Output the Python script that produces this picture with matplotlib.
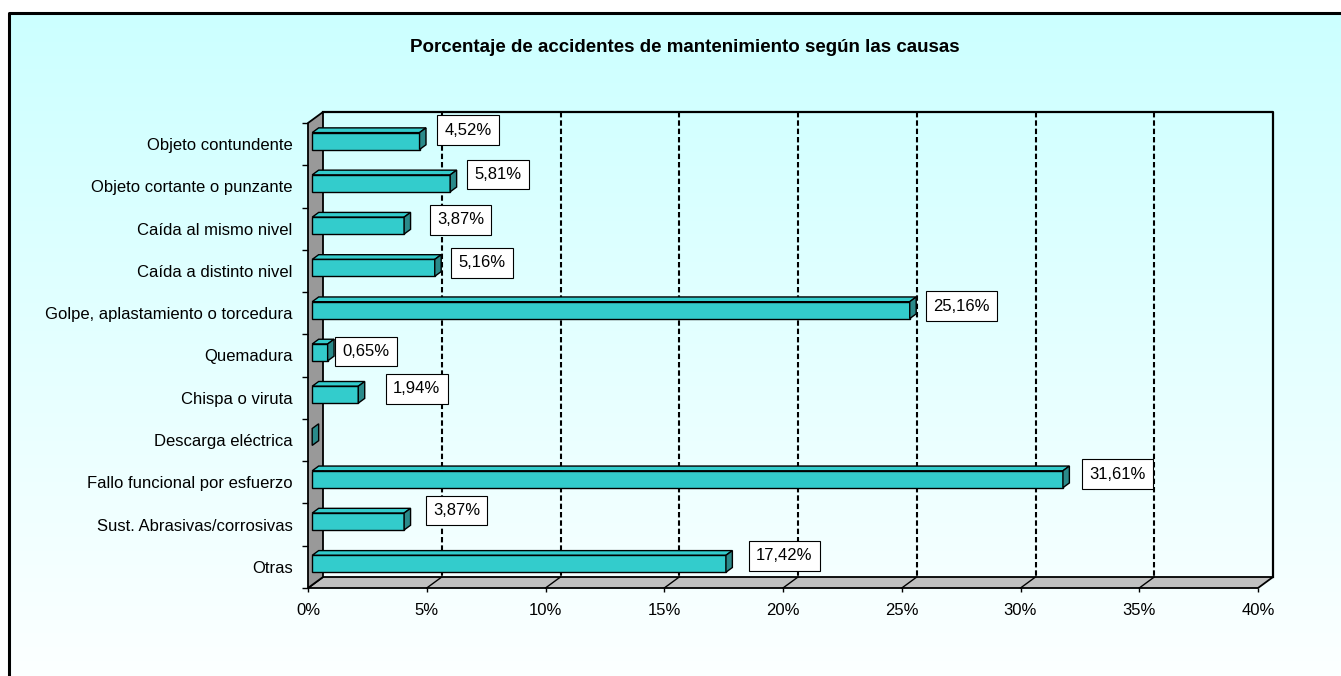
import numpy as np
import matplotlib.pyplot as plt
from matplotlib.patches import Polygon, Rectangle

plt.rcParams['font.family'] = ['Liberation Sans', 'DejaVu Sans']

# data
causas = ['Objeto contundente', 'Objeto cortante o punzante', 'Caída al mismo nivel',
          'Caída a distinto nivel', 'Golpe, aplastamiento o torcedura', 'Quemadura',
          'Chispa o viruta', 'Descarga eléctrica', 'Fallo funcional por esfuerzo',
          'Sust. Abrasivas/corrosivas', 'Otras']
porcentajes = [4.52, 5.81, 3.87, 5.16, 25.16, 0.65, 1.94, 0.0, 31.61, 3.87, 17.42]
ticks_x = [0, 5, 10, 15, 20, 25, 30, 35, 40]
titulo = 'Porcentaje de accidentes de mantenimiento según las causas'

# nudges of the value labels (pixels from the bar end, like excel puts them)
label_dx = [42, 41, 50, 41, 45, 32, 52, 0, 48, 46, 52]
label_dy = [-14, -12, -9, -8, -7, -4, -9, 0, -8, -14, -11]

W, H = 1341, 676
fig = plt.figure(figsize=(W / 100, H / 100), dpi=100)

# background: gradient + frame
bg = fig.add_axes([0, 0, 1, 1])
grad = np.linspace(0, 1, 256)[:, None, None]
top = np.array([204, 255, 255]) / 255
bot = np.array([252, 255, 255]) / 255
img = top + grad * (bot - top)
bg.imshow(img, extent=[9, W, H, 13], aspect='auto', interpolation='bilinear')
bg.plot([9, 9, W], [H, 13, 13], color='black', lw=2.2)
bg.set_xlim(0, W)
bg.set_ylim(H, 0)
bg.axis('off')

# front plane of the 3d box
x0, x1 = 308, 1258
y0, y1 = 123, 588
n = len(causas)
ax = fig.add_axes([x0 / W, 1 - y1 / H, (x1 - x0) / W, (y1 - y0) / H])
ax.set_xlim(0, 40)
ax.set_ylim(n, 0)
ax.patch.set_visible(False)
for s in ax.spines.values():
    s.set_visible(False)

# depth offset in data units
DX = 15 / ((x1 - x0) / 40)
DY = -11 / ((y1 - y0) / n)

# walls and floor
ax.add_patch(Polygon([(0, n), (40, n), (40 + DX, n + DY), (DX, n + DY)],
                     fc='#C0C0C0', ec='black', lw=1.3, clip_on=False, zorder=1))
ax.add_patch(Polygon([(0, 0), (DX, DY), (DX, n + DY), (0, n)],
                     fc='#999999', ec='black', lw=1.3, clip_on=False, zorder=1))
ax.plot([DX, 40 + DX, 40 + DX], [DY, DY, n + DY], color='black', lw=1.6,
        clip_on=False, zorder=1)
for t in ticks_x[1:-1]:
    ax.plot([t + DX, t + DX], [DY, n + DY], color='black', lw=1.5,
            ls=(0, (2.6, 1.4)), clip_on=False, zorder=1.5)
    ax.plot([t, t + DX], [n, n + DY], color='black', lw=1, clip_on=False, zorder=2)

# bars
f0, f1 = 0.28, 0.71
h = 0.40
ox, oy = f0 * DX, f0 * DY
ddx, ddy = (f1 - f0) * DX, (f1 - f0) * DY
for i, v in enumerate(porcentajes):
    yc = i + 0.5 + oy
    yt, yb = yc - h / 2, yc + h / 2
    xs, xe = ox, ox + v
    if v > 0:
        ax.add_patch(Polygon([(xs, yt), (xe, yt), (xe + ddx, yt + ddy), (xs + ddx, yt + ddy)],
                             fc='#33CCCC', ec='black', lw=1, clip_on=False, zorder=3))
        ax.add_patch(Rectangle((xs, yt), v, h, fc='#33CCCC', ec='black', lw=1,
                               clip_on=False, zorder=3))
    ax.add_patch(Polygon([(xe, yt), (xe, yb), (xe + ddx, yb + ddy), (xe + ddx, yt + ddy)],
                         fc='#2A8A8A', ec='black', lw=1, clip_on=False, zorder=3))

    if v == 0:
        continue
    txt = f'{v:.2f}'.replace('.', ',') + '%'
    ax.annotate(txt, xy=(ox + v + ddx, i + 0.5), xytext=(label_dx[i], -label_dy[i]),
                textcoords='offset pixels', ha='center', va='center', fontsize=12,
                bbox=dict(boxstyle='square,pad=0.44', fc='white', ec='black', lw=0.8),
                zorder=5, annotation_clip=False)

# axes ticks
ax.set_xticks(ticks_x)
ax.set_xticklabels([f'{t}%' for t in ticks_x])
ax.tick_params(axis='x', direction='out', length=3, width=1, pad=8, labelsize=12)
ax.set_yticks(np.arange(n + 1))
ax.set_yticklabels([])
ax.set_yticks(np.arange(n) + 0.5, minor=True)
ax.set_yticklabels(causas, minor=True)
ax.tick_params(axis='y', which='major', direction='out', length=4, width=1)
ax.tick_params(axis='y', which='minor', length=0, pad=11, labelsize=12)

fig.text(685 / W, 1 - 47 / H, titulo, ha='center', va='center', fontsize=13.5,
         fontweight='bold')

fig.savefig('out.png', dpi=100)
